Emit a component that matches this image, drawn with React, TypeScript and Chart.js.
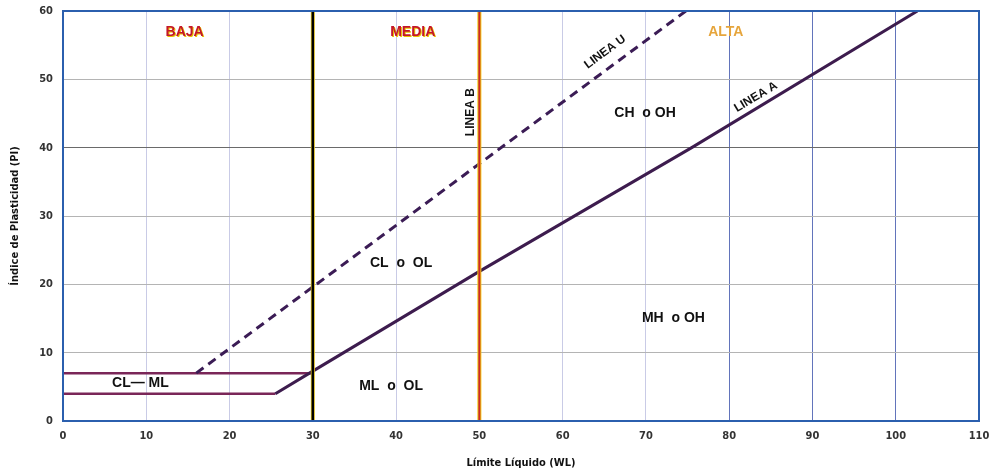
import React, { useEffect, useRef } from "react";
import { Chart, registerables } from "chart.js";

Chart.register(...registerables);

// ---- data ----
const xMin = 0;
const xMax = 110;
const yMin = 0;
const yMax = 60;

const lineA_LL = [25.5, 30, 50, 75.5, 102.6];
const lineA_PI = [4, 7.3, 21.9, 40, 60];

const lineU_LL = [16, 74.8];
const lineU_PI = [7, 60];

const clml7_LL = [0, 30];
const clml7_PI = [7, 7];
const clml4_LL = [0, 25.5];
const clml4_PI = [4, 4];

const line30_LL = [30, 30];
const line30_PI = [0, 60];
const lineB_LL = [50, 50];
const lineB_PI = [0, 60];

const zoneNames = ["BAJA", "MEDIA", "ALTA"];
const zoneLL = [14.6, 42, 79.6];
const zonePI = [56.9, 56.9, 56.9];

const soilNames = ["CH  o OH", "CL  o  OL", "MH  o OH", "ML  o  OL", "CL— ML"];
const soilLL = [69.9, 40.6, 73.3, 39.4, 9.3];
const soilPI = [45.1, 23.1, 15.1, 5.1, 5.5];

const lineNames = ["LINEA U", "LINEA B", "LINEA A"];
const lineNameLL = [65.1, 48.9, 83.2];
const lineNamePI = [54.0, 45.2, 47.4];

const toPts = (xs: number[], ys: number[]) => xs.map((x, i) => ({ x, y: ys[i] }));

const narrow = "'Liberation Sans Narrow', 'DejaVu Sans Condensed', 'Liberation Sans', sans-serif";
const sans = "'Liberation Sans', Arial, sans-serif";

const labelsPlugin = {
  id: "labelsPlugin",
  afterDatasetsDraw(chart: any) {
    const { ctx, scales, chartArea } = chart;
    const xs = scales.x;
    const ys = scales.y;
    ctx.save();
    // zone names
    ctx.font = `bold 14px ${sans}`;
    ctx.textAlign = "center";
    ctx.textBaseline = "middle";
    zoneNames.forEach((t, i) => {
      const px = xs.getPixelForValue(zoneLL[i]);
      const py = ys.getPixelForValue(zonePI[i]);
      if (i < 2) {
        ctx.fillStyle = "#e8c400";
        ctx.fillText(t, px + 1, py + 1);
        ctx.fillStyle = "#c4162a";
        ctx.fillText(t, px, py);
      } else {
        ctx.fillStyle = "#e6a53c";
        ctx.fillText(t, px, py);
      }
    });
    // soil group names
    ctx.font = `bold 14px ${sans}`;
    ctx.fillStyle = "#111";
    soilNames.forEach((t, i) => {
      ctx.fillText(t, xs.getPixelForValue(soilLL[i]), ys.getPixelForValue(soilPI[i]));
    });
    // line names (rotated)
    ctx.font = `bold 12px ${sans}`;
    const pxPerX = xs.width / (xMax - xMin);
    const pxPerY = ys.height / (yMax - yMin);
    const angles = [
      -Math.atan((0.9 * pxPerY) / pxPerX),
      -Math.PI / 2,
      -Math.atan((0.73 * pxPerY) / pxPerX),
    ];
    lineNames.forEach((t, i) => {
      ctx.save();
      ctx.translate(xs.getPixelForValue(lineNameLL[i]), ys.getPixelForValue(lineNamePI[i]));
      ctx.rotate(angles[i]);
      ctx.fillText(t, 0, 0);
      ctx.restore();
    });
    // plot border
    ctx.strokeStyle = "#2b5fae";
    ctx.lineWidth = 2;
    ctx.strokeRect(chartArea.left, chartArea.top, chartArea.right - chartArea.left, chartArea.bottom - chartArea.top);
    ctx.restore();
  },
};

export default function App() {
  const ref = useRef<HTMLCanvasElement>(null);

  useEffect(() => {
    document.body.style.margin = "0";
    const canvas = ref.current!;
    const lineDs = (label: string, xs: number[], ys: number[], color: string, width: number, order: number, dash: number[] = []) => ({
      label,
      data: toPts(xs, ys),
      showLine: true,
      borderColor: color,
      backgroundColor: color,
      borderWidth: width,
      borderDash: dash,
      pointRadius: 0,
      fill: false,
      tension: 0,
      order,
    });
    const chart = new Chart(canvas, {
      type: "scatter",
      data: {
        datasets: [
          lineDs("CL-ML 4", clml4_LL, clml4_PI, "#7a2658", 2.5, 8),
          lineDs("CL-ML 7", clml7_LL, clml7_PI, "#7a2658", 2.5, 7),
          lineDs("Linea U", lineU_LL, lineU_PI, "#3b1c55", 3, 6, [9, 6]),
          lineDs("Linea A", lineA_LL, lineA_PI, "#3d1c4e", 3, 5),
          lineDs("LL 50 glow", lineB_LL, lineB_PI, "#f0cc10", 4, 4),
          lineDs("Linea B", lineB_LL, lineB_PI, "#c8282c", 2, 3),
          lineDs("LL 30 glow", line30_LL, line30_PI, "#e8c820", 4, 2),
          lineDs("LL 30", line30_LL, line30_PI, "#000000", 2.5, 1),
        ] as any,
      },
      options: {
        animation: false,
        responsive: false,
        devicePixelRatio: 1,
        layout: { padding: { left: 0, right: 10, top: 11, bottom: 0 } },
        plugins: {
          legend: { display: false },
          tooltip: { enabled: false },
        },
        scales: {
          x: {
            type: "linear",
            min: xMin,
            max: xMax,
            ticks: {
              stepSize: 10,
              padding: 9,
              color: "#333",
              font: { family: narrow, size: 11, weight: "bold" },
            },
            grid: {
              drawTicks: false,
              lineWidth: 1,
              color: (c: any) => (c.tick && c.tick.value >= 80 ? "#6274bb" : "#c9cbe6"),
            },
            border: { display: false },
            title: {
              display: true,
              text: "Límite Líquido (WL)",
              color: "#111",
              font: { family: narrow, size: 11, weight: "bold" },
              padding: { top: 0, bottom: 4 },
            },
            afterFit: (s: any) => {
              s.height = 53;
              s.paddingRight = 0;
              s.paddingLeft = 0;
            },
          } as any,
          y: {
            type: "linear",
            min: yMin,
            max: yMax,
            ticks: {
              stepSize: 10,
              padding: 10,
              color: "#333",
              font: { family: narrow, size: 11, weight: "bold" },
            },
            grid: {
              drawTicks: false,
              lineWidth: 1,
              color: (c: any) => (c.tick && c.tick.value === 40 ? "#6a6a6a" : "#b4b4b4"),
            },
            border: { display: false },
            title: {
              display: true,
              text: "Índice de Plasticidad (PI)",
              color: "#111",
              font: { family: narrow, size: 11, weight: "bold" },
              padding: { top: 9, bottom: 0 },
            },
            afterFit: (s: any) => {
              s.width = 63;
              s.paddingTop = 0;
              s.paddingBottom = 0;
            },
          } as any,
        },
      },
      plugins: [labelsPlugin],
    });
    return () => chart.destroy();
  }, []);

  return (
    <div style={{ width: 989, height: 474, background: "#fff" }}>
      <canvas ref={ref} width={989} height={474} style={{ display: "block" }} />
    </div>
  );
}
